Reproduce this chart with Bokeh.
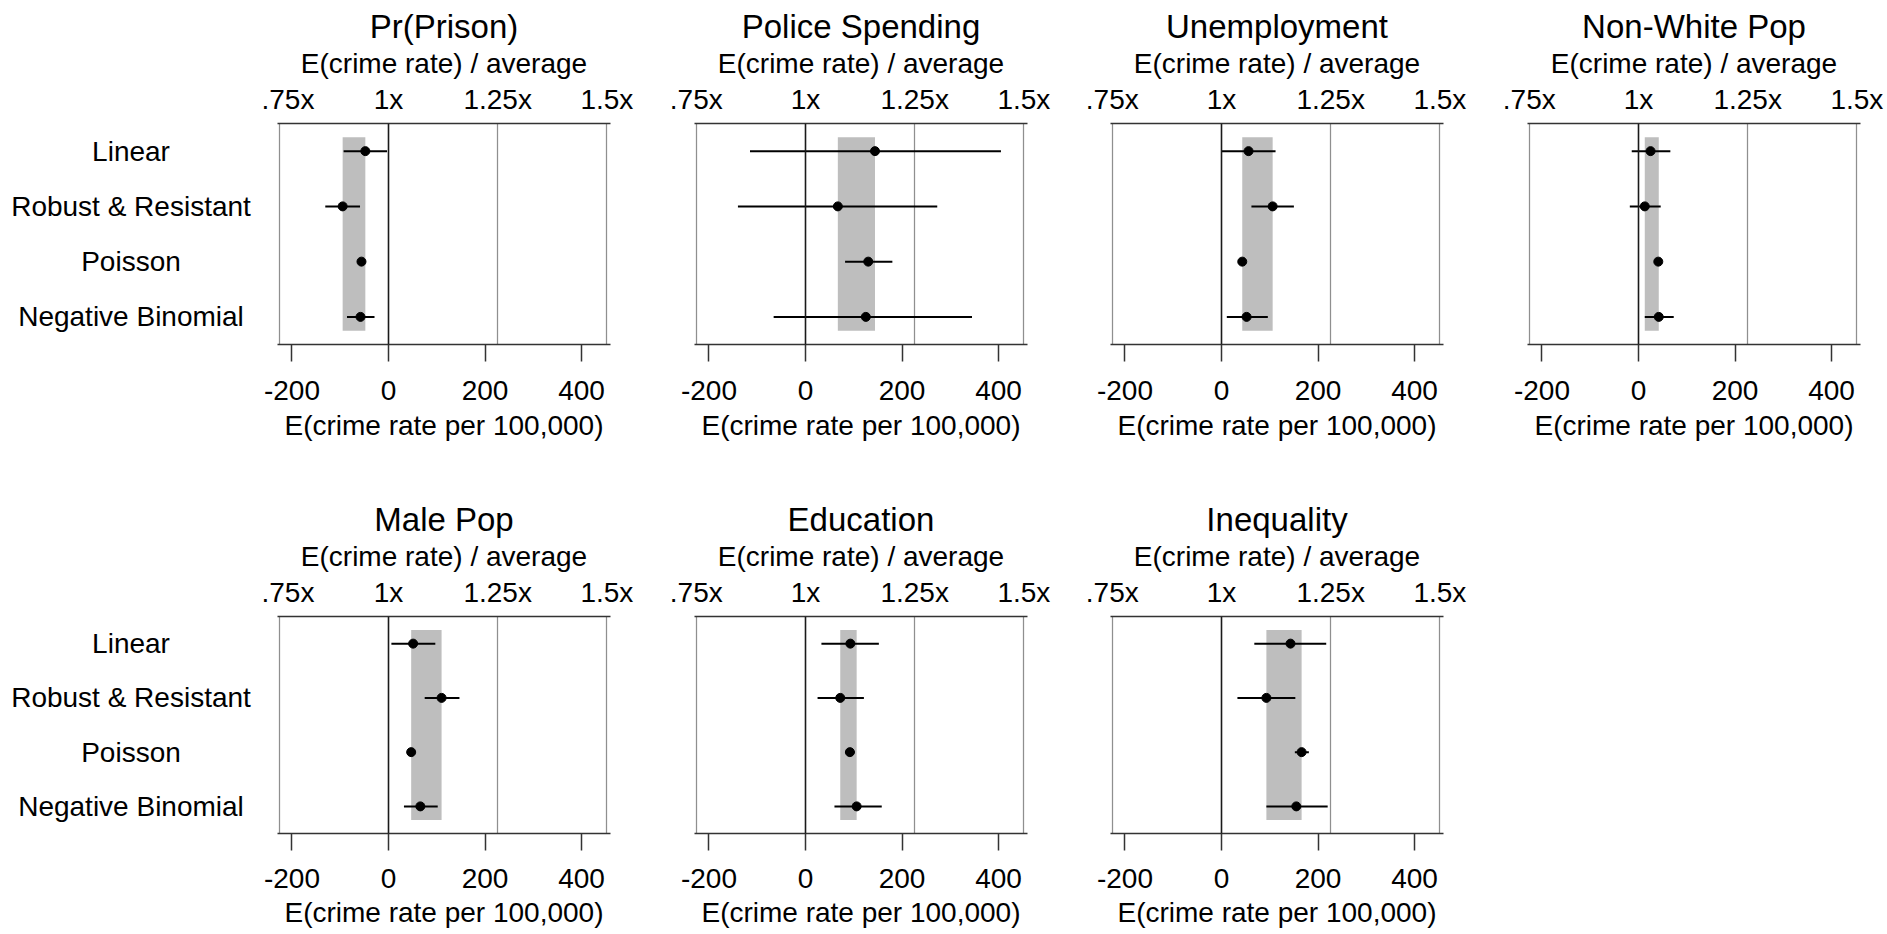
from bokeh.plotting import figure
from bokeh.models import (Range1d, FixedTicker, LinearAxis, Grid, Span,
                          ColumnDataSource)
from bokeh.layouts import row, column
from bokeh.embed import file_html
from bokeh.resources import INLINE
from bokeh.core.properties import value

# ---------------- data ----------------
models = ["Linear", "Robust & Resistant", "Poisson", "Negative Binomial"]
variables = ["Pr(Prison)", "Police Spending", "Unemployment", "Non-White Pop",
             "Male Pop", "Education", "Inequality"]

avg_crime_rate = 905.09
ratio_ticks = [0.75, 1.0, 1.25, 1.5]
ratio_labels = [".75x", "1x", "1.25x", "1.5x"]
level_ticks = [-200, 0, 200, 400]
level_labels = ["-200", "0", "200", "400"]

# effect estimates (Linear, Robust & Resistant, Poisson, Negative Binomial)
prison_est = [-48, -95, -56, -58]
prison_lo = [-93, -131, -58, -86]
prison_hi = [-3, -59, -54, -29]

police_est = [144, 67, 130, 125]
police_lo = [-115, -140, 82, -66]
police_hi = [405, 273, 180, 345]

unemp_est = [56, 106, 43, 52]
unemp_lo = [0, 62, 41, 11]
unemp_hi = [112, 150, 46, 96]

nonwhite_est = [25, 13, 41, 42]
nonwhite_lo = [-14, -18, 39, 13]
nonwhite_hi = [66, 46, 44, 73]

male_est = [51, 110, 47, 66]
male_lo = [6, 75, 45, 32]
male_hi = [97, 147, 49, 102]

edu_est = [93, 72, 92, 106]
edu_lo = [33, 25, 82, 60]
edu_hi = [152, 121, 102, 158]

ineq_est = [143, 93, 166, 155]
ineq_lo = [68, 33, 152, 93]
ineq_hi = [217, 153, 181, 220]

panel_data = [
    (prison_est, prison_lo, prison_hi),
    (police_est, police_lo, police_hi),
    (unemp_est, unemp_lo, unemp_hi),
    (nonwhite_est, nonwhite_lo, nonwhite_hi),
    (male_est, male_lo, male_hi),
    (edu_est, edu_lo, edu_hi),
    (ineq_est, ineq_lo, ineq_hi),
]

# ---------------- style ----------------
FONT = "Liberation Sans"
X_LO, X_HI = -230, 460
FRAME_W = 333
TOP_BORDER = 123
ypos = list(range(1, len(models) + 1))


def style_axis(ax, tick_out):
    ax.axis_line_color = "#333333"
    ax.axis_line_width = 1.5
    ax.major_tick_line_color = "#333333"
    ax.major_tick_line_width = 1.5
    ax.major_tick_in = 0
    ax.major_tick_out = tick_out
    ax.minor_tick_line_color = None
    ax.major_label_text_font = FONT
    ax.major_label_text_font_size = "28px"
    ax.major_label_text_color = "black"
    ax.axis_label_text_font = FONT
    ax.axis_label_text_font_size = "28px"
    ax.axis_label_text_font_style = "normal"
    ax.axis_label_text_color = "black"


def make_labels(height, b_bottom):
    p = figure(width=261, height=height,
               x_range=Range1d(0, 1), y_range=Range1d(len(models) + 0.5, 0.5),
               x_axis_location=None, y_axis_location=None,
               output_backend="svg", toolbar_location=None,
               min_border_left=0, min_border_right=0,
               min_border_top=TOP_BORDER, min_border_bottom=b_bottom)
    p.outline_line_color = None
    p.grid.visible = False
    src = ColumnDataSource(dict(x=[0.5] * len(models), y=ypos, text=models))
    p.text(x="x", y="y", text="text", source=src, text_align="center",
           text_baseline="middle", text_font=value(FONT),
           text_font_size=value("28px"), text_color="black")
    return p


def make_panel(idx, b_left, b_right, height, b_bottom, lab_standoff, ax_standoff):
    est, lo, hi = panel_data[idx]
    p = figure(width=b_left + FRAME_W + b_right, height=height,
               x_range=Range1d(X_LO, X_HI),
               y_range=Range1d(len(models) + 0.5, 0.5),
               x_axis_location="below", y_axis_location=None,
               output_backend="svg", toolbar_location=None,
               min_border_left=b_left, min_border_right=b_right,
               min_border_top=TOP_BORDER, min_border_bottom=b_bottom,
               title=variables[idx])
    p.outline_line_color = None
    p.grid.visible = False

    p.title.text_font = FONT
    p.title.text_font_size = "33px"
    p.title.text_font_style = "normal"
    p.title.text_color = "black"
    p.title.align = "center"
    p.title.standoff = 0

    # bottom axis: levels
    bax = p.below[0]
    bax.ticker = FixedTicker(ticks=level_ticks)
    bax.major_label_overrides = dict(zip(level_ticks, level_labels))
    bax.axis_label = "E(crime rate per 100,000)"
    style_axis(bax, 17)
    bax.major_label_standoff = lab_standoff
    bax.axis_label_standoff = ax_standoff

    # top axis: ratio to average
    p.extra_x_ranges = {"ratio": Range1d(1 + X_LO / avg_crime_rate,
                                         1 + X_HI / avg_crime_rate)}
    tax = LinearAxis(x_range_name="ratio", ticker=FixedTicker(ticks=ratio_ticks),
                     major_label_overrides=dict(zip(ratio_ticks, ratio_labels)),
                     axis_label="E(crime rate) / average")
    style_axis(tax, 0)
    tax.major_label_standoff = 9
    tax.axis_label_standoff = 2
    p.add_layout(tax, "above")

    # vertical grid at the ratio ticks
    grid_locs = [(m - 1) * avg_crime_rate for m in ratio_ticks]
    p.add_layout(Grid(dimension=0, ticker=FixedTicker(ticks=grid_locs),
                      grid_line_color="#8f8f8f", grid_line_width=1.25))

    # band spanning the range of point estimates
    p.quad(left=[min(est)], right=[max(est)], top=[0.75],
           bottom=[len(models) + 0.25], fill_color="#bebebe", line_color=None)

    src = ColumnDataSource(dict(y=ypos, est=est, lo=lo, hi=hi))
    p.segment(x0="lo", y0="y", x1="hi", y1="y", source=src,
              line_color="black", line_width=2)
    p.scatter(x="est", y="y", source=src, size=9, color="black")

    p.add_layout(Span(location=0, dimension="height", line_color="#1a1a1a",
                      line_width=1.5))
    return p


H1, B1 = 493, 149      # frame 221
H2, B2 = 441, 101      # frame 217

row1 = row(
    make_labels(H1, B1),
    make_panel(0, 16, 42, H1, B1, 19, 7),
    make_panel(1, 42, 41, H1, B1, 19, 7),
    make_panel(2, 42, 42, H1, B1, 19, 7),
    make_panel(3, 42, 26, H1, B1, 19, 7),
)
row2 = row(
    make_labels(H2, B2),
    make_panel(4, 16, 42, H2, B2, 18, 6),
    make_panel(5, 42, 41, H2, B2, 18, 6),
    make_panel(6, 42, 42, H2, B2, 18, 6),
)
layout = column(row1, row2)

open("out.html", "w").write(file_html(layout, INLINE))
